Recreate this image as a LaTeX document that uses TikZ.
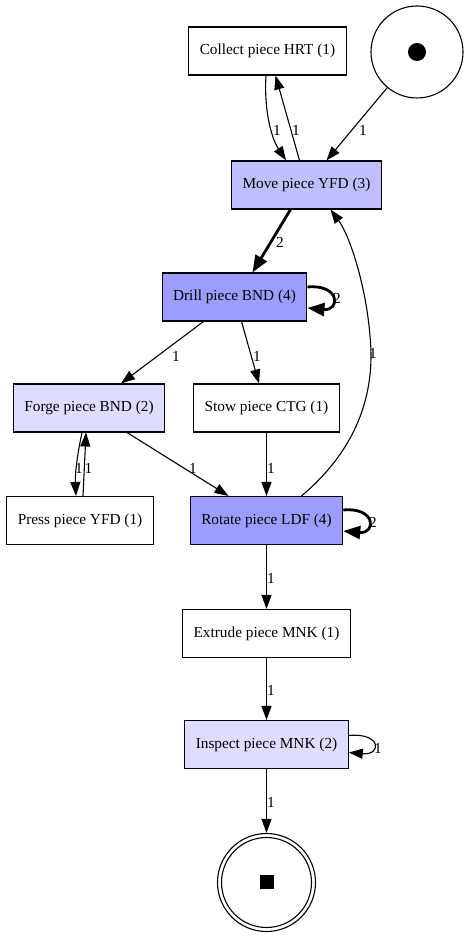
\documentclass[tikz,border=0pt]{standalone}
\usepackage{fontspec}
\setmainfont{Liberation Serif}
\usetikzlibrary{arrows.meta, calc}

\definecolor{lightfill}{RGB}{221,221,255}
\definecolor{midfill}{RGB}{191,191,255}
\definecolor{darkfill}{RGB}{157,157,255}

\begin{document}
\begin{tikzpicture}[
    x=1pt, y=1pt,
    >={Triangle[length=14pt,width=10pt]},
    font=\fontsize{15.3}{18}\selectfont,
    line width=1.1pt,
    trans/.style={draw, rectangle, minimum height=48pt, inner xsep=11pt},
    place/.style={draw, circle, inner sep=0pt},
    flow/.style={->},
    heavy/.style={-{Triangle[length=17pt,width=13pt]}, line width=2.8pt},
    wlabel/.style={inner sep=1pt}
]

% Canvas (same proportions as the reference)
\useasboundingbox (0,0) rectangle (468,936);

% Places
\node[place, minimum size=92pt] (start) at (417,884) {};
\fill (start.center) circle (9);
\node[place, minimum size=98pt] (end) at (266.5,53.5) {};
\draw (end.center) circle (45);
\fill ([shift={(-7,-7)}]end.center) rectangle ++(14,14);

% Transitions
\node[trans] (collect) at (267.5,885) {Collect piece HRT (1)};
\node[trans, fill=midfill] (move) at (306.5,751) {Move piece YFD (3)};
\node[trans, fill=darkfill] (drill) at (234.5,639) {Drill piece BND (4)};
\node[trans, fill=lightfill] (forge) at (89,528) {Forge piece BND (2)};
\node[trans] (stow) at (266.5,528) {Stow piece CTG (1)};
\node[trans] (press) at (80,415.5) {Press piece YFD (1)};
\node[trans, fill=darkfill] (rotate) at (266.5,415.5) {Rotate piece LDF (4)};
\node[trans] (extrude) at (266.5,302.5) {Extrude piece MNK (1)};
\node[trans, fill=lightfill] (inspect) at (266.5,191.5) {Inspect piece MNK (2)};

% Arcs between collect, start and move
\draw[flow] ([xshift=-1.5pt]collect.south) .. controls (264,830) and (270,800) .. ([xshift=-20.5pt]move.north);
\draw[flow] ([xshift=-7pt]move.north) -- ([xshift=8pt]collect.south);
\draw[flow] (start) -- ([xshift=20pt]move.north);
\node[wlabel] (w1) at (277,806) {1};
\node[wlabel] (w2) at (296,806) {1};
\node[wlabel] (w3) at (363,806) {1};

% Move to drill (weight 2)
\draw[heavy] ([xshift=-16pt]move.south) -- ([xshift=18pt]drill.north);
\node[wlabel] (w4) at (280,694) {2};

% Drill self-loop
\draw[heavy] ([yshift=10pt]drill.east) .. controls +(33,3) and +(33,-3) .. ([yshift=-11pt]drill.east);
\node[wlabel] (w5) at (337,638) {2};

% Drill to forge and stow
\draw[flow] ([xshift=-31pt]drill.south) -- ([xshift=32pt]forge.north);
\draw[flow] ([xshift=7pt]drill.south) -- ([xshift=-7.5pt]stow.north);
\node[wlabel] (w6) at (176,580) {1};
\node[wlabel] (w7) at (257,580) {1};

% Forge and press
\draw[flow] ([xshift=-7pt]forge.south) .. controls (77,480) and (75,462) .. ([xshift=-4pt]press.north);
\draw[flow] ([xshift=3pt]press.north) -- ([xshift=-3pt]forge.south);
\node[wlabel] (w8) at (79,468) {1};
\node[wlabel] (w9) at (88.5,468) {1};

% Into rotate
\draw[flow] ([xshift=38pt]forge.south) -- ([xshift=-38pt]rotate.north);
\draw[flow] (stow.south) -- (rotate.north);
\node[wlabel] (w10) at (193,468) {1};
\node[wlabel] (w11) at (271,468) {1};

% Rotate back up to move
\draw[flow] ([xshift=35pt]rotate.north) .. controls (355,485) and (376,540) .. (370,600)
    .. controls (366,650) and (350,700) .. ([xshift=24pt]move.south);
\node[wlabel] (w12) at (373,583) {1};

% Rotate self-loop
\draw[heavy] ([yshift=10.5pt]rotate.east) .. controls +(33,3) and +(33,-3) .. ([yshift=-10.5pt]rotate.east);
\node[wlabel] (w13) at (373,414) {2};

% Down the chain
\draw[flow] (rotate.south) -- (extrude.north);
\draw[flow] (extrude.south) -- (inspect.north);
\draw[flow] (inspect.south) -- (end);
\node[wlabel] (w14) at (271,358) {1};
\node[wlabel] (w15) at (271,246) {1};
\node[wlabel] (w16) at (271,134) {1};

% Inspect self-loop
\draw[flow] ([yshift=9pt]inspect.east) .. controls +(33,3) and +(33,-3) .. ([yshift=-8pt]inspect.east);
\node[wlabel] (w17) at (378,188) {1};

\end{tikzpicture}
\end{document}
